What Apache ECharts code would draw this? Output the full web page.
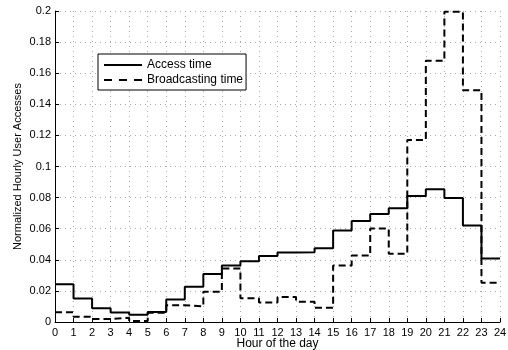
<!DOCTYPE html>
<html>
<head>
<meta charset="utf-8">
<script src="https://cdn.jsdelivr.net/npm/echarts@6/dist/echarts.min.js"></script>
<style>html,body{margin:0;padding:0;background:#fff}#c{width:508px;height:350px}</style>
</head>
<body>
<div id="c"></div>
<script>
var hours = [0,1,2,3,4,5,6,7,8,9,10,11,12,13,14,15,16,17,18,19,20,21,22,23];
var accessTime = [0.0243,0.0151,0.0088,0.0061,0.0047,0.0065,0.0144,0.0226,0.0308,0.0363,0.0390,0.0424,0.0447,0.0448,0.0475,0.0588,0.0650,0.0695,0.0732,0.0810,0.0853,0.0798,0.0620,0.0408];
var broadcastTime = [0.0062,0.0034,0.0020,0.0028,0.0006,0.0060,0.0108,0.0101,0.0194,0.0344,0.0152,0.0125,0.0161,0.0130,0.0092,0.0364,0.0428,0.0601,0.0439,0.1170,0.1680,0.1995,0.1490,0.0252];
var xTicks = [0,1,2,3,4,5,6,7,8,9,10,11,12,13,14,15,16,17,18,19,20,21,22,23,24];

function steps(vals){
  var d = hours.map(function(h,i){return [h, vals[i]];});
  d.push([xTicks[xTicks.length-1], vals[vals.length-1]]);
  return d;
}
var font = 'Liberation Sans, Arial, sans-serif';
var chart = echarts.init(document.getElementById('c'), null, {renderer:'canvas'});
chart.setOption({
  animation:false,
  backgroundColor:'#fff',
  grid:{left:55,right:8,top:11,bottom:28,containLabel:false,outerBoundsMode:'none'},
  legend:{
    orient:'vertical', left:98, top:54,
    backgroundColor:'#fff', borderColor:'#000', borderWidth:1,
    padding:[5,3,4,6], itemGap:3, itemWidth:38, itemHeight:12,
    textStyle:{color:'#000', fontFamily:font, fontSize:12},
    data:[
      {name:'Access time', icon:'path://M0,0h38v2h-38z', itemStyle:{color:'#000'}},
      {name:'Broadcasting time', icon:'path://M0,0h8v2h-8z M15,0h8v2h-8z M30,0h8v2h-8z', itemStyle:{color:'#000'}}
    ]
  },
  xAxis:{
    type:'value', min:0, max:24, interval:1,
    name:'Hour of the day', nameLocation:'middle', nameGap:16, nameMoveOverlap:false,
    nameTextStyle:{color:'#000', fontFamily:font, fontSize:12},
    axisLine:{lineStyle:{color:'#000'}},
    axisTick:{inside:true, length:4, lineStyle:{color:'#000'}},
    axisLabel:{color:'#000', fontFamily:font, fontSize:11, margin:5, showMaxLabel:true},
    splitLine:{show:true, lineStyle:{color:'#aaa', type:[1,4], width:1}}
  },
  yAxis:{
    type:'value', min:0, max:0.2, interval:0.02,
    name:'Normalized Hourly User Accesses', nameLocation:'middle', nameGap:32, nameMoveOverlap:false,
    nameTextStyle:{color:'#000', fontFamily:font, fontSize:11},
    axisLine:{show:true, lineStyle:{color:'#000'}},
    axisTick:{show:true, inside:true, length:4, lineStyle:{color:'#000'}},
    axisLabel:{color:'#000', fontFamily:font, fontSize:11, margin:4},
    splitLine:{show:true, lineStyle:{color:'#aaa', type:[1,4], width:1}}
  },
  series:[
    {name:'Access time', type:'line', step:'end', data:steps(accessTime),
     symbol:'none', clip:false, lineStyle:{color:'#000', width:2}, itemStyle:{color:'#000'}},
    {name:'Broadcasting time', type:'line', step:'end', data:steps(broadcastTime),
     symbol:'none', clip:false, lineStyle:{color:'#000', width:2, type:[7,4]}, itemStyle:{color:'#000'}}
  ]
});
</script>
</body>
</html>
